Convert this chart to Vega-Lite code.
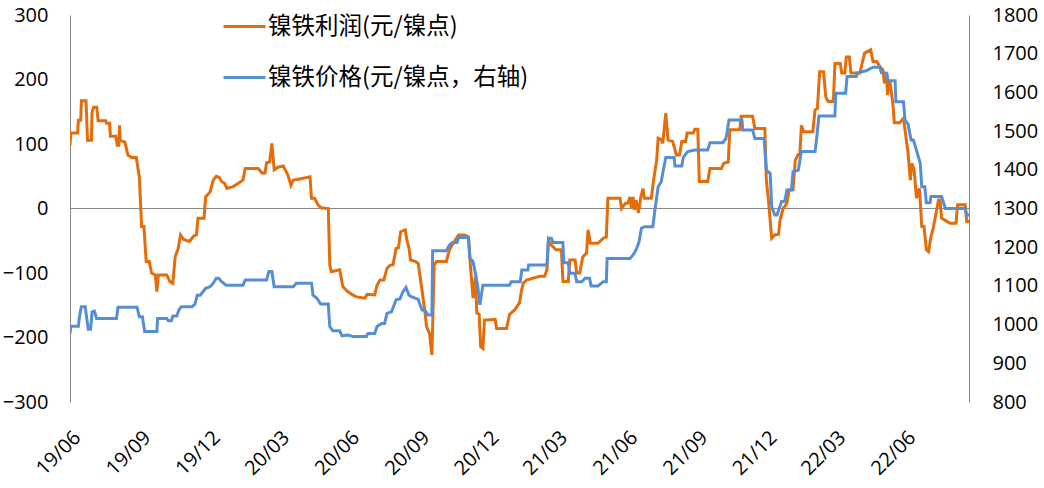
{
"$schema":"https://vega.github.io/schema/vega-lite/v6.json",
"width":899,"height":387,
"autosize":"none",
"padding":{"left":70,"top":15,"right":75,"bottom":86},
"background":"white",
"config":{"view":{"stroke":null},"font":"Open Sans",
"axis":{"labelFont":"Open Sans","labelFontSize":20,"labelColor":"#000000","grid":false,"ticks":false,"title":null,"domainColor":"#868686","domainWidth":1}},
"resolve":{"scale":{"y":"independent"}},
"layer":[
{"data":{"values":[{}]},
"mark":{"type":"rule","color":"#868686","strokeWidth":1},
"encoding":{"y":{"datum":0,"type":"quantitative","scale":{"domain":[-300,300],"nice":false},"axis":null}}},
{"data":{"values":[
{"d":"2019-06-01","v":98},{"d":"2019-06-02","v":117},{"d":"2019-06-11","v":117},{"d":"2019-06-12","v":137},{"d":"2019-06-15","v":137},{"d":"2019-06-16","v":167},{"d":"2019-06-22","v":167},{"d":"2019-06-24","v":106},{"d":"2019-06-29","v":106},{"d":"2019-06-30","v":150},{"d":"2019-07-02","v":157},{"d":"2019-07-06","v":157},{"d":"2019-07-08","v":136},{"d":"2019-07-18","v":136},{"d":"2019-07-19","v":132},{"d":"2019-07-23","v":132},{"d":"2019-07-24","v":112},{"d":"2019-07-31","v":112},{"d":"2019-08-02","v":98},{"d":"2019-08-04","v":98},{"d":"2019-08-05","v":129},{"d":"2019-08-06","v":106},{"d":"2019-08-12","v":103},{"d":"2019-08-16","v":83},{"d":"2019-08-21","v":79},{"d":"2019-08-27","v":79},{"d":"2019-08-31","v":49},{"d":"2019-09-03","v":-28},{"d":"2019-09-06","v":-28},{"d":"2019-09-09","v":-82},{"d":"2019-09-13","v":-82},{"d":"2019-09-16","v":-100},{"d":"2019-09-21","v":-103},{"d":"2019-09-23","v":-129},{"d":"2019-09-25","v":-103},{"d":"2019-10-06","v":-103},{"d":"2019-10-10","v":-113},{"d":"2019-10-14","v":-116},{"d":"2019-10-17","v":-75},{"d":"2019-10-21","v":-62},{"d":"2019-10-24","v":-41},{"d":"2019-10-28","v":-48},{"d":"2019-11-05","v":-51},{"d":"2019-11-10","v":-43},{"d":"2019-11-14","v":-41},{"d":"2019-11-16","v":-15},{"d":"2019-11-24","v":-15},{"d":"2019-11-26","v":18},{"d":"2019-12-02","v":26},{"d":"2019-12-06","v":44},{"d":"2019-12-10","v":50},{"d":"2019-12-14","v":48},{"d":"2019-12-17","v":42},{"d":"2019-12-21","v":39},{"d":"2019-12-24","v":31},{"d":"2020-01-01","v":34},{"d":"2020-01-08","v":39},{"d":"2020-01-14","v":44},{"d":"2020-01-17","v":62},{"d":"2020-02-03","v":62},{"d":"2020-02-08","v":55},{"d":"2020-02-12","v":55},{"d":"2020-02-14","v":71},{"d":"2020-02-18","v":72},{"d":"2020-02-21","v":101},{"d":"2020-02-24","v":60},{"d":"2020-02-29","v":64},{"d":"2020-03-07","v":66},{"d":"2020-03-13","v":52},{"d":"2020-03-17","v":36},{"d":"2020-03-20","v":44},{"d":"2020-03-25","v":45},{"d":"2020-04-11","v":49},{"d":"2020-04-13","v":16},{"d":"2020-04-17","v":16},{"d":"2020-04-22","v":5},{"d":"2020-04-26","v":1},{"d":"2020-05-05","v":0},{"d":"2020-05-07","v":-88},{"d":"2020-05-09","v":-98},{"d":"2020-05-20","v":-95},{"d":"2020-05-24","v":-121},{"d":"2020-05-28","v":-126},{"d":"2020-05-31","v":-129},{"d":"2020-06-06","v":-134},{"d":"2020-06-11","v":-137},{"d":"2020-06-22","v":-139},{"d":"2020-06-25","v":-133},{"d":"2020-07-05","v":-134},{"d":"2020-07-08","v":-119},{"d":"2020-07-12","v":-111},{"d":"2020-07-17","v":-111},{"d":"2020-07-21","v":-93},{"d":"2020-07-25","v":-88},{"d":"2020-07-29","v":-87},{"d":"2020-08-02","v":-62},{"d":"2020-08-05","v":-61},{"d":"2020-08-08","v":-36},{"d":"2020-08-14","v":-33},{"d":"2020-08-16","v":-48},{"d":"2020-08-19","v":-62},{"d":"2020-08-21","v":-80},{"d":"2020-08-27","v":-82},{"d":"2020-08-31","v":-85},{"d":"2020-09-05","v":-126},{"d":"2020-09-09","v":-162},{"d":"2020-09-11","v":-183},{"d":"2020-09-15","v":-194},{"d":"2020-09-18","v":-227},{"d":"2020-09-21","v":-88},{"d":"2020-09-24","v":-82},{"d":"2020-10-07","v":-82},{"d":"2020-10-11","v":-64},{"d":"2020-10-16","v":-54},{"d":"2020-10-23","v":-41},{"d":"2020-10-31","v":-41},{"d":"2020-11-05","v":-44},{"d":"2020-11-07","v":-80},{"d":"2020-11-11","v":-139},{"d":"2020-11-14","v":-106},{"d":"2020-11-16","v":-162},{"d":"2020-11-19","v":-164},{"d":"2020-11-21","v":-214},{"d":"2020-11-24","v":-217},{"d":"2020-11-26","v":-173},{"d":"2020-12-10","v":-172},{"d":"2020-12-12","v":-186},{"d":"2020-12-25","v":-186},{"d":"2020-12-29","v":-164},{"d":"2021-01-05","v":-157},{"d":"2021-01-11","v":-146},{"d":"2021-01-14","v":-125},{"d":"2021-01-16","v":-116},{"d":"2021-01-20","v":-111},{"d":"2021-01-29","v":-108},{"d":"2021-02-07","v":-105},{"d":"2021-02-13","v":-105},{"d":"2021-02-16","v":-95},{"d":"2021-02-18","v":-49},{"d":"2021-02-22","v":-57},{"d":"2021-02-28","v":-64},{"d":"2021-03-07","v":-64},{"d":"2021-03-09","v":-113},{"d":"2021-03-16","v":-113},{"d":"2021-03-18","v":-80},{"d":"2021-03-25","v":-80},{"d":"2021-03-27","v":-100},{"d":"2021-03-31","v":-100},{"d":"2021-04-04","v":-75},{"d":"2021-04-09","v":-69},{"d":"2021-04-11","v":-33},{"d":"2021-04-14","v":-54},{"d":"2021-04-24","v":-54},{"d":"2021-05-01","v":-46},{"d":"2021-05-05","v":-44},{"d":"2021-05-07","v":16},{"d":"2021-05-23","v":16},{"d":"2021-05-25","v":0},{"d":"2021-05-30","v":8},{"d":"2021-06-02","v":8},{"d":"2021-06-05","v":18},{"d":"2021-06-07","v":0},{"d":"2021-06-09","v":18},{"d":"2021-06-11","v":-2},{"d":"2021-06-13","v":13},{"d":"2021-06-16","v":-7},{"d":"2021-06-19","v":16},{"d":"2021-06-22","v":31},{"d":"2021-06-24","v":16},{"d":"2021-07-03","v":16},{"d":"2021-07-06","v":44},{"d":"2021-07-10","v":75},{"d":"2021-07-12","v":109},{"d":"2021-07-16","v":107},{"d":"2021-07-18","v":101},{"d":"2021-07-22","v":148},{"d":"2021-07-25","v":106},{"d":"2021-07-31","v":104},{"d":"2021-08-05","v":83},{"d":"2021-08-09","v":83},{"d":"2021-08-12","v":104},{"d":"2021-08-17","v":104},{"d":"2021-08-19","v":117},{"d":"2021-08-27","v":117},{"d":"2021-08-29","v":123},{"d":"2021-09-02","v":123},{"d":"2021-09-04","v":42},{"d":"2021-09-15","v":42},{"d":"2021-09-18","v":62},{"d":"2021-10-03","v":62},{"d":"2021-10-06","v":70},{"d":"2021-10-12","v":72},{"d":"2021-10-14","v":122},{"d":"2021-10-27","v":122},{"d":"2021-10-29","v":143},{"d":"2021-11-13","v":143},{"d":"2021-11-16","v":124},{"d":"2021-11-29","v":124},{"d":"2021-12-01","v":44},{"d":"2021-12-04","v":10},{"d":"2021-12-08","v":-46},{"d":"2021-12-12","v":-41},{"d":"2021-12-17","v":-40},{"d":"2021-12-19","v":-18},{"d":"2021-12-23","v":0},{"d":"2021-12-28","v":8},{"d":"2021-12-31","v":29},{"d":"2022-01-05","v":29},{"d":"2022-01-08","v":75},{"d":"2022-01-12","v":84},{"d":"2022-01-14","v":85},{"d":"2022-01-16","v":129},{"d":"2022-01-19","v":119},{"d":"2022-01-31","v":119},{"d":"2022-02-03","v":153},{"d":"2022-02-06","v":155},{"d":"2022-02-09","v":212},{"d":"2022-02-14","v":212},{"d":"2022-02-17","v":173},{"d":"2022-02-20","v":166},{"d":"2022-02-27","v":166},{"d":"2022-03-01","v":225},{"d":"2022-03-08","v":225},{"d":"2022-03-10","v":210},{"d":"2022-03-14","v":210},{"d":"2022-03-16","v":235},{"d":"2022-03-20","v":235},{"d":"2022-03-22","v":210},{"d":"2022-04-03","v":210},{"d":"2022-04-05","v":222},{"d":"2022-04-09","v":241},{"d":"2022-04-17","v":246},{"d":"2022-04-20","v":228},{"d":"2022-04-25","v":228},{"d":"2022-04-29","v":220},{"d":"2022-05-03","v":215},{"d":"2022-05-05","v":194},{"d":"2022-05-08","v":207},{"d":"2022-05-09","v":176},{"d":"2022-05-12","v":199},{"d":"2022-05-16","v":163},{"d":"2022-05-18","v":133},{"d":"2022-05-25","v":133},{"d":"2022-05-30","v":140},{"d":"2022-06-01","v":122},{"d":"2022-06-05","v":86},{"d":"2022-06-08","v":44},{"d":"2022-06-10","v":70},{"d":"2022-06-13","v":60},{"d":"2022-06-16","v":16},{"d":"2022-06-20","v":31},{"d":"2022-06-23","v":-28},{"d":"2022-06-26","v":-28},{"d":"2022-06-29","v":-64},{"d":"2022-07-02","v":-67},{"d":"2022-07-05","v":-44},{"d":"2022-07-08","v":-31},{"d":"2022-07-10","v":-18},{"d":"2022-07-15","v":13},{"d":"2022-07-17","v":13},{"d":"2022-07-19","v":-15},{"d":"2022-07-26","v":-20},{"d":"2022-07-30","v":-23},{"d":"2022-08-07","v":-23},{"d":"2022-08-09","v":6},{"d":"2022-08-19","v":6},{"d":"2022-08-21","v":-20},{"d":"2022-08-24","v":-20}
]},
"mark":{"type":"line","strokeWidth":3,"clip":true},
"encoding":{
"x":{"field":"d","type":"temporal","scale":{"type":"utc","domain":[{"year":2019,"month":6,"date":1,"utc":true},{"year":2022,"month":8,"date":24,"utc":true}]},
"axis":{"orient":"bottom","format":"%y/%m","labelAngle":-45,"domain":false,"ticks":false,"labelPadding":25,"labelOverlap":false,"labelFontSize":20,
"values":[{"year":2019,"month":6,"date":1,"utc":true},{"year":2019,"month":9,"date":1,"utc":true},{"year":2019,"month":12,"date":1,"utc":true},{"year":2020,"month":3,"date":1,"utc":true},{"year":2020,"month":6,"date":1,"utc":true},{"year":2020,"month":9,"date":1,"utc":true},{"year":2020,"month":12,"date":1,"utc":true},{"year":2021,"month":3,"date":1,"utc":true},{"year":2021,"month":6,"date":1,"utc":true},{"year":2021,"month":9,"date":1,"utc":true},{"year":2021,"month":12,"date":1,"utc":true},{"year":2022,"month":3,"date":1,"utc":true},{"year":2022,"month":6,"date":1,"utc":true}]}},
"y":{"field":"v","type":"quantitative","scale":{"domain":[-300,300],"nice":false},"axis":{"orient":"left","values":[-300,-200,-100,0,100,200,300],"labelPadding":22,"domain":true}},
"color":{"datum":"镍铁利润(元/镍点)","type":"nominal","scale":{"domain":["镍铁利润(元/镍点)","镍铁价格(元/镍点，右轴)"],"range":["#E46C0A","#558ED5"]},
"legend":{"orient":"none","legendX":152,"legendY":-11,"title":null,"direction":"vertical","symbolType":"stroke","symbolStrokeWidth":3,"symbolSize":1764,"labelFont":"Noto Sans CJK SC","labelFontSize":23.5,"labelColor":"#000000","labelOffset":1,"labelLimit":500,"rowPadding":17}}
}},
{"data":{"values":[
{"d":"2019-06-01","v":977},{"d":"2019-06-02","v":996},{"d":"2019-06-12","v":996},{"d":"2019-06-13","v":1014},{"d":"2019-06-15","v":1038},{"d":"2019-06-16","v":1046},{"d":"2019-06-21","v":1046},{"d":"2019-06-23","v":1016},{"d":"2019-06-25","v":988},{"d":"2019-06-28","v":988},{"d":"2019-06-30","v":1033},{"d":"2019-07-03","v":1035},{"d":"2019-07-06","v":1016},{"d":"2019-08-01","v":1016},{"d":"2019-08-03","v":1045},{"d":"2019-08-28","v":1045},{"d":"2019-08-31","v":1020},{"d":"2019-09-04","v":1020},{"d":"2019-09-07","v":982},{"d":"2019-09-23","v":982},{"d":"2019-09-24","v":1016},{"d":"2019-10-06","v":1016},{"d":"2019-10-08","v":1010},{"d":"2019-10-12","v":1010},{"d":"2019-10-14","v":1022},{"d":"2019-10-19","v":1022},{"d":"2019-10-22","v":1038},{"d":"2019-10-25","v":1046},{"d":"2019-11-08","v":1046},{"d":"2019-11-12","v":1053},{"d":"2019-11-15","v":1076},{"d":"2019-11-19","v":1076},{"d":"2019-11-26","v":1094},{"d":"2019-12-02","v":1098},{"d":"2019-12-06","v":1107},{"d":"2019-12-10","v":1120},{"d":"2019-12-13","v":1120},{"d":"2019-12-17","v":1111},{"d":"2019-12-23","v":1102},{"d":"2020-01-14","v":1102},{"d":"2020-01-17","v":1115},{"d":"2020-02-14","v":1115},{"d":"2020-02-17","v":1137},{"d":"2020-02-21","v":1137},{"d":"2020-02-24","v":1098},{"d":"2020-03-20","v":1098},{"d":"2020-03-24","v":1107},{"d":"2020-04-13","v":1107},{"d":"2020-04-15","v":1076},{"d":"2020-04-20","v":1068},{"d":"2020-04-25","v":1053},{"d":"2020-05-05","v":1053},{"d":"2020-05-07","v":995},{"d":"2020-05-11","v":984},{"d":"2020-05-20","v":984},{"d":"2020-05-23","v":971},{"d":"2020-05-31","v":973},{"d":"2020-06-07","v":969},{"d":"2020-06-24","v":969},{"d":"2020-06-26","v":977},{"d":"2020-07-05","v":977},{"d":"2020-07-08","v":995},{"d":"2020-07-14","v":1003},{"d":"2020-07-18","v":1003},{"d":"2020-07-21","v":1029},{"d":"2020-07-27","v":1033},{"d":"2020-08-02","v":1064},{"d":"2020-08-07","v":1066},{"d":"2020-08-11","v":1085},{"d":"2020-08-15","v":1096},{"d":"2020-08-19","v":1076},{"d":"2020-08-22","v":1072},{"d":"2020-08-31","v":1065},{"d":"2020-09-05","v":1038},{"d":"2020-09-09","v":1036},{"d":"2020-09-13","v":1025},{"d":"2020-09-18","v":1025},{"d":"2020-09-19","v":1191},{"d":"2020-10-07","v":1191},{"d":"2020-10-11","v":1206},{"d":"2020-10-15","v":1212},{"d":"2020-10-21","v":1212},{"d":"2020-10-23","v":1225},{"d":"2020-11-05","v":1225},{"d":"2020-11-07","v":1171},{"d":"2020-11-11","v":1163},{"d":"2020-11-14","v":1133},{"d":"2020-11-17","v":1102},{"d":"2020-11-20","v":1051},{"d":"2020-11-24","v":1102},{"d":"2020-12-29","v":1102},{"d":"2020-12-31","v":1111},{"d":"2021-01-12","v":1111},{"d":"2021-01-14","v":1141},{"d":"2021-01-22","v":1141},{"d":"2021-01-23","v":1154},{"d":"2021-02-16","v":1154},{"d":"2021-02-18","v":1223},{"d":"2021-02-22","v":1223},{"d":"2021-02-24","v":1212},{"d":"2021-03-09","v":1212},{"d":"2021-03-10","v":1160},{"d":"2021-03-16","v":1160},{"d":"2021-03-18","v":1133},{"d":"2021-03-25","v":1133},{"d":"2021-03-27","v":1111},{"d":"2021-04-03","v":1111},{"d":"2021-04-07","v":1120},{"d":"2021-04-13","v":1120},{"d":"2021-04-15","v":1100},{"d":"2021-04-24","v":1100},{"d":"2021-05-01","v":1111},{"d":"2021-05-05","v":1111},{"d":"2021-05-06","v":1171},{"d":"2021-06-05","v":1171},{"d":"2021-06-09","v":1180},{"d":"2021-06-13","v":1193},{"d":"2021-06-17","v":1214},{"d":"2021-06-20","v":1249},{"d":"2021-06-24","v":1253},{"d":"2021-07-05","v":1253},{"d":"2021-07-08","v":1300},{"d":"2021-07-12","v":1356},{"d":"2021-07-16","v":1369},{"d":"2021-07-18","v":1391},{"d":"2021-07-22","v":1432},{"d":"2021-08-02","v":1432},{"d":"2021-08-03","v":1410},{"d":"2021-08-12","v":1410},{"d":"2021-08-14","v":1432},{"d":"2021-08-18","v":1443},{"d":"2021-08-20","v":1447},{"d":"2021-08-29","v":1451},{"d":"2021-09-15","v":1451},{"d":"2021-09-18","v":1470},{"d":"2021-10-05","v":1470},{"d":"2021-10-09","v":1481},{"d":"2021-10-13","v":1529},{"d":"2021-10-30","v":1529},{"d":"2021-10-31","v":1503},{"d":"2021-11-13","v":1503},{"d":"2021-11-16","v":1481},{"d":"2021-11-28","v":1481},{"d":"2021-12-01","v":1399},{"d":"2021-12-06","v":1391},{"d":"2021-12-08","v":1305},{"d":"2021-12-12","v":1283},{"d":"2021-12-15","v":1283},{"d":"2021-12-21","v":1318},{"d":"2021-12-25","v":1318},{"d":"2021-12-28","v":1348},{"d":"2022-01-03","v":1348},{"d":"2022-01-05","v":1395},{"d":"2022-01-12","v":1399},{"d":"2022-01-16","v":1447},{"d":"2022-02-03","v":1447},{"d":"2022-02-05","v":1481},{"d":"2022-02-08","v":1539},{"d":"2022-03-01","v":1539},{"d":"2022-03-02","v":1598},{"d":"2022-03-15","v":1598},{"d":"2022-03-17","v":1641},{"d":"2022-03-29","v":1641},{"d":"2022-03-31","v":1651},{"d":"2022-04-11","v":1656},{"d":"2022-04-20","v":1665},{"d":"2022-04-29","v":1665},{"d":"2022-05-01","v":1651},{"d":"2022-05-08","v":1650},{"d":"2022-05-10","v":1630},{"d":"2022-05-19","v":1630},{"d":"2022-05-20","v":1576},{"d":"2022-05-30","v":1576},{"d":"2022-06-01","v":1529},{"d":"2022-06-05","v":1518},{"d":"2022-06-09","v":1477},{"d":"2022-06-12","v":1477},{"d":"2022-06-16","v":1451},{"d":"2022-06-21","v":1417},{"d":"2022-06-23","v":1356},{"d":"2022-06-27","v":1356},{"d":"2022-06-29","v":1315},{"d":"2022-07-04","v":1315},{"d":"2022-07-05","v":1331},{"d":"2022-07-19","v":1331},{"d":"2022-07-24","v":1300},{"d":"2022-08-19","v":1300},{"d":"2022-08-21","v":1283},{"d":"2022-08-24","v":1283}
]},
"mark":{"type":"line","strokeWidth":3,"clip":true},
"encoding":{
"x":{"field":"d","type":"temporal","scale":{"type":"utc"}},
"y":{"field":"v","type":"quantitative","scale":{"domain":[800,1800],"nice":false},"axis":{"orient":"right","format":"d","values":[800,900,1000,1100,1200,1300,1400,1500,1600,1700,1800],"labelPadding":23,"domain":true}},
"color":{"datum":"镍铁价格(元/镍点，右轴)","type":"nominal"}
}}
]
}
